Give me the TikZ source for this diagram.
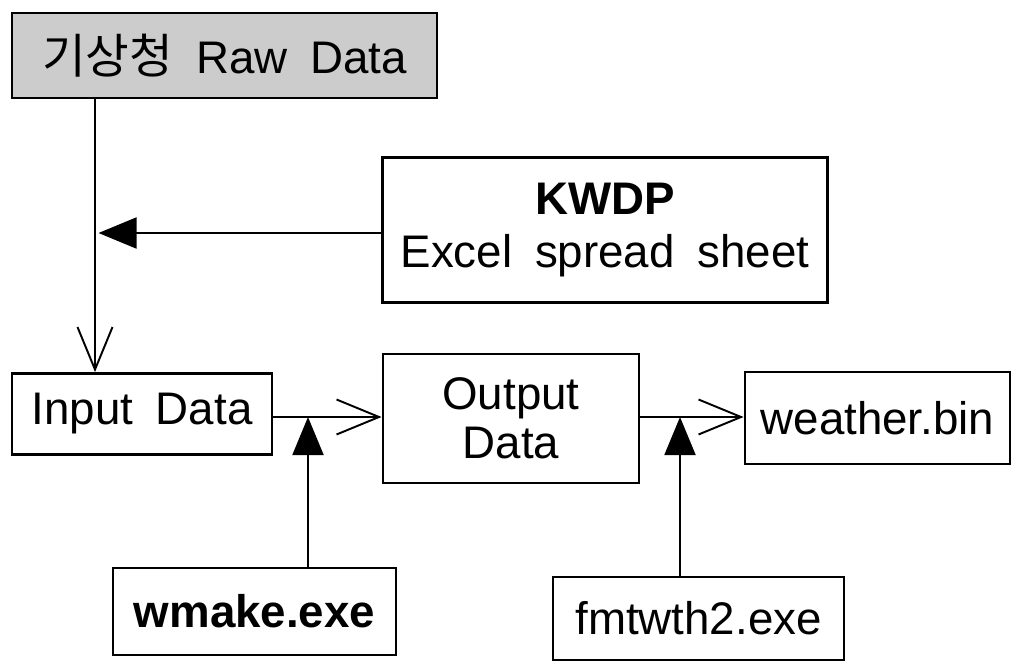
\documentclass[tikz,border=0pt]{standalone}
\usepackage{fontspec}
\setmainfont{Liberation Sans}[WordSpace=1.8]
\newfontfamily\korfont{Noto Sans CJK KR}
\usetikzlibrary{arrows.meta}

\begin{document}
\begin{tikzpicture}[
  box/.style={draw, line width=1.6pt, inner sep=0pt, align=center, font=\fontsize{26}{28}\selectfont},
  feed/.style={line width=1.1pt, -{Straight Barb[length=0.85cm, width=0.7cm]}},
  tool/.style={line width=1.1pt, -{Triangle[length=0.76cm, width=0.62cm]}}
]
\useasboundingbox (0,0) rectangle (20.32,-13.28);
\node[box, fill=black!20, minimum width=8.5cm, minimum height=1.7cm] (raw) at (4.49,-1.11) {{\korfont\fontsize{27}{28}\selectfont 기상청} Raw Data};
\node[box, minimum width=8.9cm, minimum height=2.9cm] (kwdp) at (12.1,-4.6) {\textbf{KWDP}\\[2pt]Excel spread sheet};
\node[box, minimum width=5.2cm, minimum height=1.62cm] (input) at (2.84,-8.28) {Input Data};
\node[box, minimum width=5.12cm, minimum height=2.58cm] (output) at (10.22,-8.37) {Output\\Data};
\node[box, minimum width=5.3cm, minimum height=1.84cm] (weather) at (17.55,-8.36) {weather.bin};
\node[box, minimum width=5.66cm, minimum height=1.74cm] (wmake) at (5.09,-12.23) {\textbf{wmake.exe}};
\node[box, minimum width=5.82cm, minimum height=1.66cm] (fmt) at (13.97,-12.37) {fmtwth2.exe};

\coordinate (jkw) at (1.9,-4.66);
\coordinate (jin) at (6.16,-8.34);
\coordinate (jout) at (13.6,-8.34);

\draw[feed] (raw.south -| jkw) -- (input.north -| jkw);
\draw[tool, shorten >=2pt] (kwdp.west |- jkw) -- (jkw);
\draw[feed] (input.east |- jin) -- (output.west |- jin);
\draw[feed] (output.east |- jout) -- (weather.west |- jout);
\draw[tool] (wmake.north -| jin) -- (jin);
\draw[tool] (fmt.north -| jout) -- (jout);
\end{tikzpicture}
\end{document}
